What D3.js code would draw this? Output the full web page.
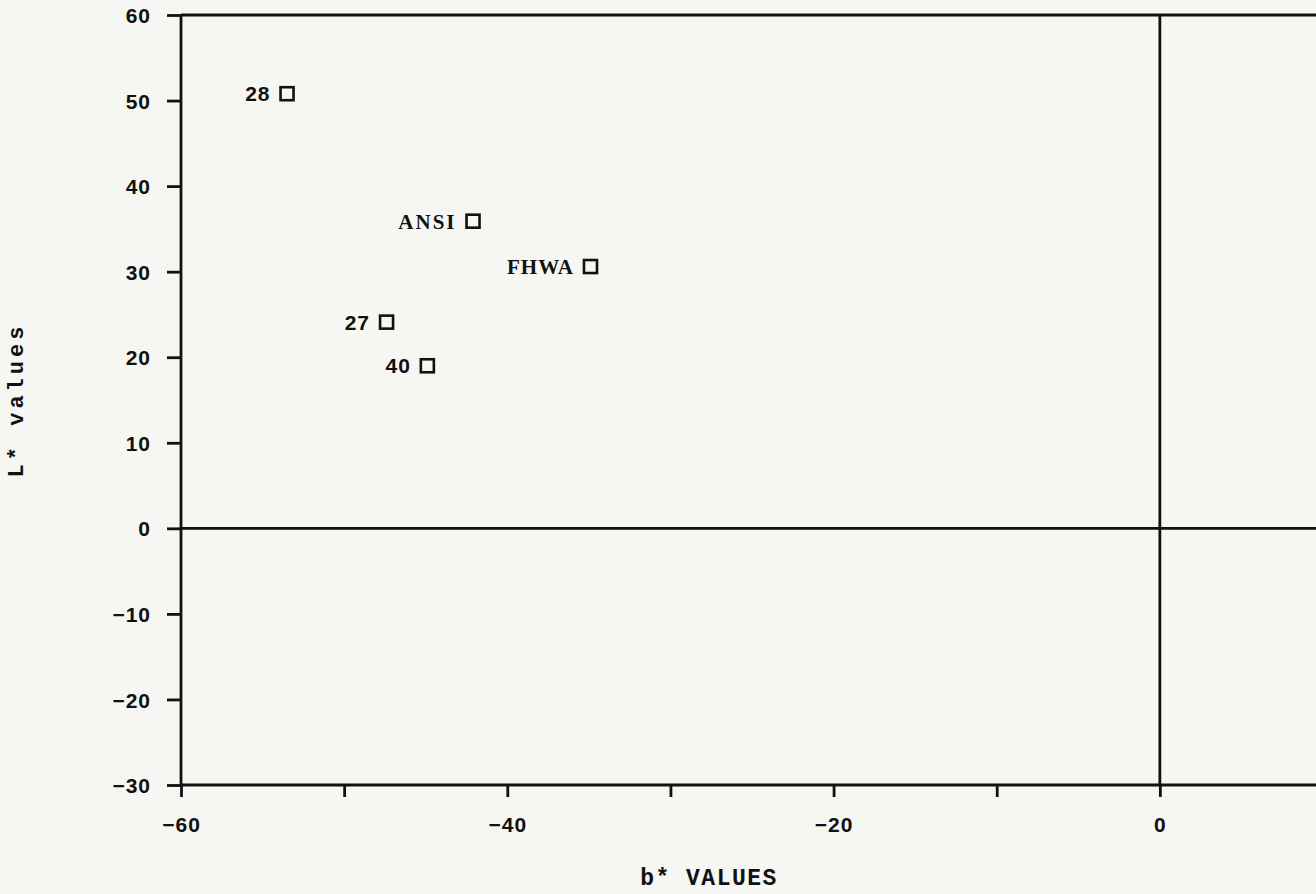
<!DOCTYPE html>
<html>
<head>
<meta charset="utf-8">
<script src="https://cdn.jsdelivr.net/npm/d3@7"></script>
<style>
  html, body { margin: 0; padding: 0; background: #f6f6f2; }
  svg { display: block; }
</style>
</head>
<body>
<svg id="chart" width="1316" height="894"></svg>
<script>
// Colour samples: b* against L*
const names   = ["28", "ANSI", "FHWA", "27", "40"];
const bValues = [-53.5, -42.1, -34.9, -47.4, -44.9];
const lValues = [50.8, 35.9, 30.6, 24.1, 19.0];

const xTicks = [-60, -50, -40, -30, -20, -10, 0, 10];
const xLabeled = [-60, -40, -20, 0];
const yTicks = [-30, -20, -10, 0, 10, 20, 30, 40, 50, 60];

const xTitle = "b* VALUES";
const yTitle = "L* values";

(function draw() {
  const svg = d3.select("#chart");
  const plotLeft = 181, plotRight = 1323, plotTop = 15, plotBottom = 785;

  const x = d3.scaleLinear().domain([-60, 10]).range([plotLeft, plotRight]);
  const y = d3.scaleLinear().domain([-30, 60]).range([plotBottom, plotTop]);

  const ink = "#111";
  const lw = 2.8;
  const fmt = v => (v < 0 ? "\u2212" + Math.abs(v) : String(v));
  const tickFont = sel => sel
    .attr("fill", ink)
    .style("font-family", "'Liberation Sans', Arial, sans-serif")
    .style("font-weight", "bold")
    .style("font-size", "21px")
    .style("letter-spacing", "1px");

  // y axis
  const yAxis = svg.append("g")
    .attr("transform", `translate(${plotLeft},0)`)
    .call(d3.axisLeft(y).tickValues(yTicks).tickSize(14).tickSizeOuter(0).tickPadding(16).tickFormat(fmt));
  yAxis.select(".domain").remove();
  yAxis.selectAll(".tick line").attr("stroke", ink).attr("stroke-width", lw);
  yAxis.selectAll(".tick text").attr("dy", "0.36em").call(tickFont);

  // x axis
  const xAxis = svg.append("g")
    .attr("transform", `translate(0,${plotBottom})`)
    .call(d3.axisBottom(x).tickValues(xTicks).tickSize(12).tickSizeOuter(0).tickPadding(30)
      .tickFormat(v => xLabeled.includes(v) ? fmt(v) : ""));
  xAxis.select(".domain").remove();
  xAxis.selectAll(".tick line").attr("stroke", ink).attr("stroke-width", lw);
  xAxis.selectAll(".tick text").attr("dy", "0.25em").call(tickFont);

  // frame and zero lines
  const frame = svg.append("g").attr("stroke", ink).attr("stroke-width", lw).attr("fill", "none");
  frame.append("line").attr("x1", plotLeft).attr("x2", plotLeft).attr("y1", plotTop).attr("y2", plotBottom);
  frame.append("line").attr("x1", plotLeft).attr("x2", plotRight).attr("y1", plotBottom).attr("y2", plotBottom);
  frame.append("line").attr("x1", plotLeft).attr("x2", plotRight).attr("y1", plotTop).attr("y2", plotTop);
  frame.append("line").attr("x1", plotRight).attr("x2", plotRight).attr("y1", plotTop).attr("y2", plotBottom);
  frame.append("line").attr("x1", plotLeft).attr("x2", plotRight).attr("y1", y(0)).attr("y2", y(0));
  frame.append("line").attr("x1", x(0)).attr("x2", x(0)).attr("y1", plotTop).attr("y2", plotBottom);

  // points
  const pts = names.map((n, i) => ({ name: n, b: bValues[i], l: lValues[i] }));
  const sq = 13;
  const g = svg.append("g");
  g.selectAll("rect").data(pts).join("rect")
    .attr("x", d => x(d.b) - sq / 2)
    .attr("y", d => y(d.l) - sq / 2)
    .attr("width", sq).attr("height", sq)
    .attr("fill", "none").attr("stroke", ink).attr("stroke-width", 2.6);

  g.selectAll("text").data(pts).join("text")
    .attr("x", d => x(d.b) - sq / 2 - 10)
    .attr("y", d => y(d.l))
    .attr("dy", "0.36em")
    .attr("text-anchor", "end")
    .attr("fill", ink)
    .style("font-family", d => /^\d+$/.test(d.name) ? "'Liberation Sans', Arial, sans-serif" : "'Liberation Serif', 'Times New Roman', serif")
    .style("font-weight", "bold")
    .style("font-size", "21px")
    .style("letter-spacing", d => d.name === "ANSI" ? "2px" : "1px")
    .text(d => d.name);

  // axis titles
  svg.append("text")
    .attr("x", 709).attr("y", 885)
    .attr("text-anchor", "middle")
    .attr("fill", ink)
    .style("font-family", "'Liberation Mono', 'Courier New', monospace")
    .style("font-weight", "bold")
    .style("font-size", "23px")
    .style("letter-spacing", "1.5px")
    .text(xTitle);

  svg.append("text")
    .attr("transform", "translate(23,400) rotate(-90)")
    .attr("text-anchor", "middle")
    .attr("fill", ink)
    .style("font-family", "'Liberation Mono', 'Courier New', monospace")
    .style("font-weight", "bold")
    .style("font-size", "22px")
    .style("letter-spacing", "4px")
    .text(yTitle);
})();
</script>
</body>
</html>
